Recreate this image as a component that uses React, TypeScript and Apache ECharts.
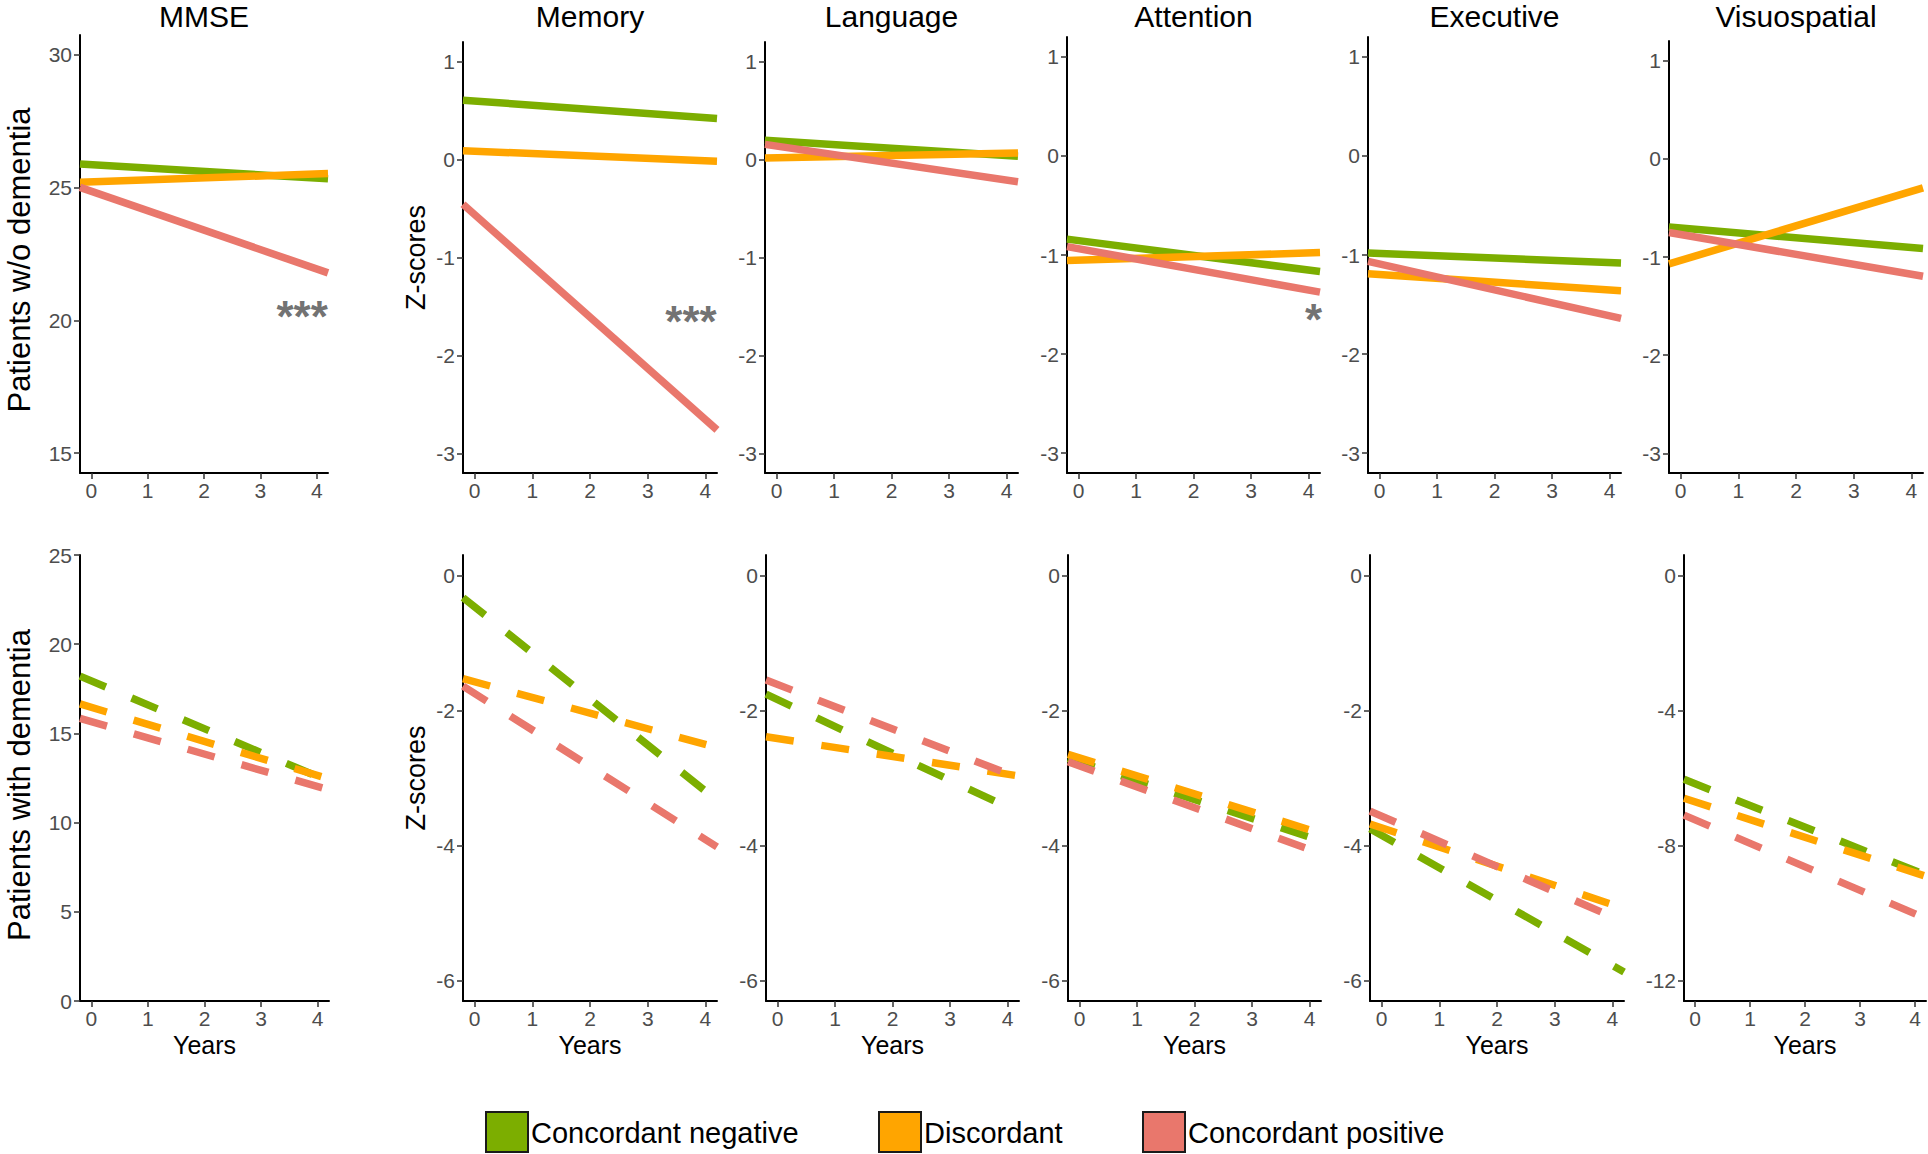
import React, { useEffect, useRef } from "react";
import * as echarts from "echarts";

// ---------- data ----------
const domains = ["MMSE", "Memory", "Language", "Attention", "Executive", "Visuospatial"];
const groups = ["Concordant negative", "Discordant", "Concordant positive"];
const yearSpan = [-0.2, 4.2];
const yearTicks = [0, 1, 2, 3, 4];

// fitted values at the left / right edge of the year span, one pair per domain
// patients without dementia (solid lines)
const woNegative = [[25.89, 25.33], [0.606, 0.42], [0.196, 0.034], [-0.84, -1.167], [-0.98, -1.08], [-0.695, -0.913]];
const woDiscordant = [[25.2, 25.53], [0.09, -0.017], [0.017, 0.067], [-1.056, -0.976], [-1.19, -1.36], [-1.07, -0.296]];
const woPositive = [[25.01, 21.79], [-0.457, -2.76], [0.155, -0.227], [-0.915, -1.375], [-1.065, -1.64], [-0.75, -1.196]];
// patients with dementia (dashed lines)
const wNegative = [[18.21, 12.31], [-0.33, -3.33], [-1.76, -3.51], [-2.71, -3.93], [-3.75, -5.87], [-6.04, -8.87]];
const wDiscordant = [[16.65, 12.45], [-1.53, -2.55], [-2.39, -2.97], [-2.65, -3.82], [-3.68, -4.93], [-6.6, -8.91]];
const wPositive = [[15.84, 11.84], [-1.64, -4.02], [-1.55, -3.0], [-2.76, -4.12], [-3.49, -5.13], [-7.1, -10.16]];

const woYRange = [[14.25, 30.75], [-3.2, 1.2], [-3.2, 1.2], [-3.2, 1.2], [-3.2, 1.2], [-3.2, 1.2]];
const woYTicks = [[15, 20, 25, 30], [-3, -2, -1, 0, 1], [-3, -2, -1, 0, 1], [-3, -2, -1, 0, 1], [-3, -2, -1, 0, 1], [-3, -2, -1, 0, 1]];
const wYRange = [[0, 25], [-6.3, 0.3], [-6.3, 0.3], [-6.3, 0.3], [-6.3, 0.3], [-12.6, 0.6]];
const wYTicks = [[0, 5, 10, 15, 20, 25], [-6, -4, -2, 0], [-6, -4, -2, 0], [-6, -4, -2, 0], [-6, -4, -2, 0], [-12, -8, -4, 0]];

const starMarks = [
  { row: 0, col: 0, year: 3.74, value: 20.34, text: "***" },
  { row: 0, col: 1, year: 3.75, value: -1.6, text: "***" },
  { row: 0, col: 3, year: 4.09, value: -1.6, text: "*" },
];

const rowLabels = ["Patients w/o dementia", "Patients with dementia"];

// ---------- layout & style ----------
const groupColors = ["#7CAE00", "#FFA500", "#E9776C"];
const FONT = "Liberation Sans";
const topRow = [
  { left: 80, width: 248, top: 35 },
  { left: 463, width: 254, top: 42 },
  { left: 765, width: 253, top: 42 },
  { left: 1067, width: 253, top: 37 },
  { left: 1368, width: 253, top: 37 },
  { left: 1669, width: 254, top: 41 },
];
const topBottom = 473;
const bottomRow = [
  { left: 80, width: 249 },
  { left: 463, width: 254 },
  { left: 766, width: 253 },
  { left: 1068, width: 253 },
  { left: 1370, width: 254 },
  { left: 1684, width: 242 },
];
const bottomTop = 555;
const bottomBottom = 1001;

function buildOption() {
  const grids: any[] = [];
  const xAxes: any[] = [];
  const yAxes: any[] = [];
  const series: any[] = [];
  const graphic: any[] = [];

  const rows = [
    { lines: [woNegative, woDiscordant, woPositive], yr: woYRange, yt: woYTicks, dashed: false },
    { lines: [wNegative, wDiscordant, wPositive], yr: wYRange, yt: wYTicks, dashed: true },
  ];

  const tickLabel = { color: "#4D4D4D", fontSize: 21, fontFamily: FONT };

  rows.forEach((row, r) => {
    domains.forEach((d, c) => {
      const idx = r * domains.length + c;
      const g =
        r === 0
          ? { left: topRow[c].left, width: topRow[c].width, top: topRow[c].top, height: topBottom - topRow[c].top }
          : { left: bottomRow[c].left, width: bottomRow[c].width, top: bottomTop, height: bottomBottom - bottomTop };
      grids.push({ ...g, containLabel: false, outerBoundsMode: "none", show: false });
      xAxes.push({
        type: "value",
        gridIndex: idx,
        min: yearSpan[0],
        max: yearSpan[1],
        axisLine: { show: true, onZero: false, lineStyle: { color: "#000", width: 2 } },
        axisTick: { show: true, length: 6, customValues: yearTicks, lineStyle: { color: "#333", width: 1.5 } },
        axisLabel: { show: true, customValues: yearTicks, margin: 7, ...tickLabel },
        splitLine: { show: false },
      });
      yAxes.push({
        type: "value",
        gridIndex: idx,
        min: row.yr[c][0],
        max: row.yr[c][1],
        axisLine: { show: true, onZero: false, lineStyle: { color: "#000", width: 2 } },
        axisTick: { show: true, length: 6, customValues: row.yt[c], lineStyle: { color: "#333", width: 1.5 } },
        axisLabel: { show: true, customValues: row.yt[c], margin: 8, ...tickLabel },
        splitLine: { show: false },
      });
      row.lines.forEach((arr, gi) => {
        series.push({
          type: "line",
          name: groups[gi],
          xAxisIndex: idx,
          yAxisIndex: idx,
          data: [
            [yearSpan[0], arr[c][0]],
            [yearSpan[1], arr[c][1]],
          ],
          showSymbol: false,
          symbol: "none",
          silent: true,
          z: 3 + gi,
          lineStyle: {
            color: groupColors[gi],
            width: 7.5,
            type: row.dashed ? [28, 28] : "solid",
            cap: "butt",
          },
        });
      });

      // panel titles (top row only)
      if (r === 0) {
        graphic.push({
          type: "text",
          x: g.left + g.width / 2,
          y: 1,
          style: { text: d, fontSize: 30, fontFamily: FONT, fill: "#000", textAlign: "center", textVerticalAlign: "top" },
        });
      } else {
        graphic.push({
          type: "text",
          x: g.left + g.width / 2,
          y: 1045,
          style: { text: "Years", fontSize: 25, fontFamily: FONT, fill: "#000", textAlign: "center", textVerticalAlign: "middle" },
        });
      }
      if (c === 1) {
        graphic.push({
          type: "text",
          x: 416,
          y: g.top + g.height / 2,
          rotation: Math.PI / 2,
          style: { text: "Z-scores", fontSize: 27, fontFamily: FONT, fill: "#000", textAlign: "center", textVerticalAlign: "middle" },
        });
      }
    });
  });

  // significance stars
  starMarks.forEach((s) => {
    const idx = s.row * domains.length + s.col;
    series.push({
      type: "scatter",
      xAxisIndex: idx,
      yAxisIndex: idx,
      data: [[s.year, s.value]],
      symbolSize: 1,
      silent: true,
      itemStyle: { color: "rgba(0,0,0,0)" },
      label: {
        show: true,
        position: "inside",
        formatter: s.text,
        fontSize: 44,
        fontWeight: "bold",
        fontFamily: FONT,
        color: "#4D4D4D",
        offset: [0, 5],
      },
      z: 10,
    });
  });

  // row labels
  graphic.push({
    type: "text",
    x: 19,
    y: 260,
    rotation: Math.PI / 2,
    style: { text: rowLabels[0], fontSize: 31, fontFamily: FONT, fill: "#000", textAlign: "center", textVerticalAlign: "middle" },
  });
  graphic.push({
    type: "text",
    x: 19,
    y: 785,
    rotation: Math.PI / 2,
    style: { text: rowLabels[1], fontSize: 31, fontFamily: FONT, fill: "#000", textAlign: "center", textVerticalAlign: "middle" },
  });

  // legend
  const legendX = [486, 879, 1143];
  groups.forEach((name, gi) => {
    graphic.push({
      type: "rect",
      shape: { x: legendX[gi], y: 1112, width: 42, height: 40 },
      style: { fill: groupColors[gi], stroke: "#1a1a1a", lineWidth: 2 },
    });
    graphic.push({
      type: "text",
      x: legendX[gi] + 45,
      y: 1133,
      style: { text: name, fontSize: 29, fontFamily: FONT, fill: "#000", textAlign: "left", textVerticalAlign: "middle" },
    });
  });

  return {
    animation: false,
    backgroundColor: "#ffffff",
    textStyle: { fontFamily: FONT },
    grid: grids,
    xAxis: xAxes,
    yAxis: yAxes,
    series,
    graphic,
  };
}

export default function App() {
  const ref = useRef<HTMLDivElement>(null);
  useEffect(() => {
    document.body.style.margin = "0";
    document.body.style.overflow = "hidden";
    if (!ref.current) return;
    const chart = echarts.init(ref.current, undefined, { renderer: "svg" });
    chart.setOption(buildOption());
    return () => chart.dispose();
  }, []);
  return (
    <div
      ref={ref}
      style={{ position: "absolute", left: 0, top: 0, width: 1928, height: 1154, background: "#fff" }}
    />
  );
}
